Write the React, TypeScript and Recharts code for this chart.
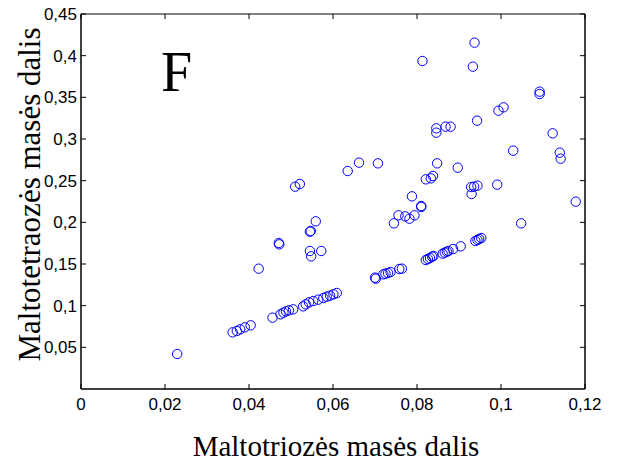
import { Label, Scatter, ScatterChart, XAxis, YAxis } from "recharts";

// maltotriose mass fraction (x) vs maltotetraose mass fraction (y)
const maltotriose = [
  0.0229, 0.0361, 0.0371, 0.0379, 0.039, 0.0404, 0.0456, 0.0475, 0.0482, 0.0488,
  0.0495, 0.0505, 0.0529, 0.0535, 0.0543, 0.0553, 0.0565, 0.0577, 0.0585, 0.0593,
  0.0601, 0.0609, 0.07, 0.0702, 0.072, 0.0725, 0.0731, 0.0737, 0.0758, 0.0764,
  0.0821, 0.0826, 0.0831, 0.0836, 0.0839, 0.0861, 0.0866, 0.0871, 0.0875, 0.0886,
  0.0904, 0.0939, 0.0944, 0.0948, 0.0953,
  0.0423, 0.0471, 0.0472, 0.0545, 0.0548, 0.0572, 0.0547, 0.0545, 0.0559, 0.051,
  0.0521, 0.0635, 0.0662, 0.0707, 0.0745, 0.0756, 0.0772, 0.0782, 0.0794, 0.0788,
  0.081, 0.081, 0.0821, 0.0833, 0.0838, 0.0848, 0.0897, 0.0929, 0.0936, 0.0944,
  0.093, 0.0991, 0.1048, 0.1178, 0.0846, 0.0846, 0.0868, 0.088, 0.0943, 0.0994,
  0.1006, 0.1092, 0.1092, 0.1123, 0.1029, 0.114, 0.1142, 0.0813, 0.0933, 0.0937,
];
const maltotetraose = [
  0.042, 0.068, 0.0696, 0.0716, 0.074, 0.0764, 0.0856, 0.0896, 0.0916, 0.0932,
  0.0944, 0.0956, 0.0992, 0.1016, 0.104, 0.1056, 0.1072, 0.1092, 0.1108, 0.112,
  0.1136, 0.1152, 0.1336, 0.1324, 0.1376, 0.1384, 0.1392, 0.1404, 0.144, 0.1444,
  0.1548, 0.156, 0.1572, 0.1588, 0.1596, 0.1624, 0.1636, 0.1648, 0.1656, 0.168,
  0.1712, 0.1776, 0.1788, 0.18, 0.1812,
  0.1444, 0.1752, 0.1736, 0.1656, 0.1592, 0.1656, 0.1896, 0.1888, 0.2012, 0.2428,
  0.246, 0.2616, 0.2716, 0.2708, 0.1988, 0.2084, 0.2072, 0.2044, 0.2084, 0.2312,
  0.2196, 0.2184, 0.2516, 0.2528, 0.2556, 0.2708, 0.2656, 0.2424, 0.2428, 0.244,
  0.234, 0.2452, 0.1988, 0.2248, 0.3128, 0.3076, 0.3148, 0.3148, 0.322, 0.334,
  0.338, 0.3568, 0.354, 0.3068, 0.286, 0.2836, 0.2764, 0.3936, 0.3868, 0.4156,
];
const xTicks = [0, 0.02, 0.04, 0.06, 0.08, 0.1, 0.12];
const yTicks = [0.05, 0.1, 0.15, 0.2, 0.25, 0.3, 0.35, 0.4, 0.45];

const points = maltotriose.map((x, i) => ({ x, y: maltotetraose[i] }));

const fmt = (v: number) => String(v).replace(".", ",");
const tickFont = { fontFamily: "Liberation Sans, Arial, sans-serif", fontSize: 17 };

const BottomTick = (p: any) => (
  <g>
    <line x1={p.x} y1={p.y} x2={p.x} y2={p.y - 5} stroke="#000" />
    <text x={p.x} y={p.y + 21} textAnchor="middle" fill="#000" {...tickFont}>
      {fmt(p.payload.value)}
    </text>
  </g>
);
const TopTick = (p: any) => (
  <line x1={p.x} y1={p.y} x2={p.x} y2={p.y + 5} stroke="#000" />
);
const LeftTick = (p: any) => (
  <g>
    <line x1={p.x} y1={p.y} x2={p.x + 5} y2={p.y} stroke="#000" />
    <text x={p.x - 4} y={p.y + 6} textAnchor="end" fill="#000" {...tickFont}>
      {fmt(p.payload.value)}
    </text>
  </g>
);
const RightTick = (p: any) => (
  <line x1={p.x} y1={p.y} x2={p.x - 5} y2={p.y} stroke="#000" />
);

const Ring = (p: any) => (
  <circle cx={p.cx} cy={p.cy} r={4.7} fill="none" stroke="#0000ff" strokeWidth={1} />
);
const Hidden = () => <g />;

const serif = "Liberation Serif, Times New Roman, serif";

export default function App() {
  return (
    <div style={{ position: "absolute", left: 0, top: 0, width: 627, height: 461 }}>
      <ScatterChart width={627} height={461} margin={{ top: 0, right: 0, bottom: 0, left: 0 }}>
        <XAxis
          dataKey="x"
          type="number"
          domain={[0, 0.12]}
          ticks={xTicks}
          height={72}
          tickSize={0}
          tickMargin={0}
          tick={<BottomTick />}
          axisLine={{ stroke: "#000", strokeWidth: 1.5 }}
          interval={0}
        >
          <Label
            content={(props: any) => {
              const vb = props.viewBox;
              return (
                <text x={vb.x + vb.width / 2 + 3} y={vb.y + 67} textAnchor="middle" fontFamily={serif} fontSize={29} fill="#000">
                  Maltotriozės masės dalis
                </text>
              );
            }}
          />
        </XAxis>
        <XAxis
          xAxisId="top"
          dataKey="x"
          orientation="top"
          type="number"
          domain={[0, 0.12]}
          ticks={xTicks}
          height={14}
          tickSize={0}
          tickMargin={0}
          tick={<TopTick />}
          axisLine={{ stroke: "#000", strokeWidth: 1 }}
          interval={0}
        />
        <YAxis
          dataKey="y"
          type="number"
          domain={[0, 0.45]}
          ticks={yTicks}
          width={81}
          tickSize={0}
          tickMargin={0}
          tick={<LeftTick />}
          axisLine={{ stroke: "#000", strokeWidth: 1.5 }}
          interval={0}
        >
          <Label
            content={() => {
              const cx = 40;
              const cy = 194.5;
              return (
                <text x={cx} y={cy} transform={`rotate(-90, ${cx}, ${cy})`} textAnchor="middle" fontFamily={serif} fontSize={31} fill="#000">
                  Maltotetraozės masės dalis
                </text>
              );
            }}
          />
        </YAxis>
        <YAxis
          yAxisId="right"
          dataKey="y"
          orientation="right"
          type="number"
          domain={[0, 0.45]}
          ticks={yTicks}
          width={42}
          tickSize={0}
          tickMargin={0}
          tick={<RightTick />}
          axisLine={{ stroke: "#000", strokeWidth: 1.5 }}
          interval={0}
        />
        <Scatter data={points} xAxisId="top" yAxisId="right" shape={<Hidden />} isAnimationActive={false} />
        <Scatter data={points} shape={<Ring />} isAnimationActive={false} />
      </ScatterChart>
      <svg width={627} height={461} style={{ position: "absolute", left: 0, top: 0, pointerEvents: "none" }}>
        <text x={161} y={91} fontFamily={serif} fontSize={56} fill="#000">
          F
        </text>
      </svg>
    </div>
  );
}
